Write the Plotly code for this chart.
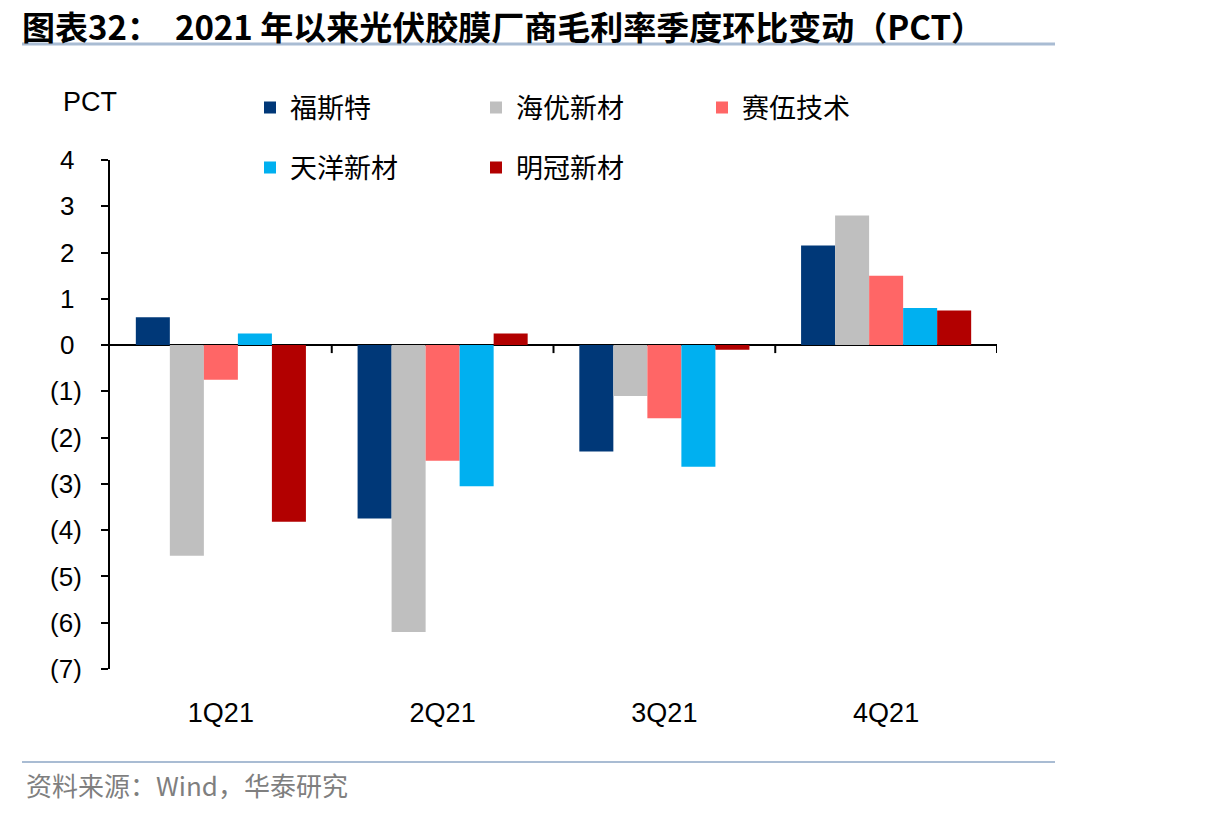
import plotly.graph_objects as go

categories = ["1Q21", "2Q21", "3Q21", "4Q21"]
series_names = ["福斯特", "海优新材", "赛伍技术", "天洋新材", "明冠新材"]
fst = [0.60, -3.75, -2.30, 2.15]
hy = [-4.55, -6.20, -1.10, 2.80]
sw = [-0.75, -2.50, -1.58, 1.50]
ty = [0.25, -3.05, -2.63, 0.80]
mg = [-3.82, 0.25, -0.10, 0.75]
series_values = [fst, hy, sw, ty, mg]
colors = ["#003878", "#bfbfbf", "#ff6666", "#00b0f0", "#b20000"]
legend_ids = ["legend", "legend", "legend", "legend2", "legend2"]

y_tickvals = [4, 3, 2, 1, 0, -1, -2, -3, -4, -5, -6, -7]
y_ticktext = ["4\u00a0", "3\u00a0", "2\u00a0", "1\u00a0", "0\u00a0", "(1)", "(2)", "(3)", "(4)", "(5)", "(6)", "(7)"]

W, H = 1206, 816
L, R, T, B = 110, 997, 160, 669
pw, ph = R - L, B - T


def px(xp):
    return (xp - L) / pw


def py(yp):
    return (B - yp) / ph


fig = go.Figure()
for name, vals, c, lg in zip(series_names, series_values, colors, legend_ids):
    fig.add_trace(go.Bar(x=categories, y=vals, name=name, marker=dict(color=c, line=dict(width=0)),
                         legend=lg))

arial = "Liberation Sans, Arial, sans-serif"
ytick_font = dict(family=arial, size=26, color="#000000")
xtick_font = dict(family=arial, size=27, color="#000000")
cjk = "Noto Sans CJK SC, sans-serif"
legend_font = dict(family=cjk, size=27, color="#000")

fig.update_layout(
    width=W, height=H,
    margin=dict(l=L, r=W - R, t=T, b=H - B, pad=0),
    paper_bgcolor="white", plot_bgcolor="white",
    barmode="group", bargap=0.233, bargroupgap=0,
    showlegend=True,
    legend=dict(orientation="h", x=px(250), xanchor="left", y=py(108), yanchor="middle",
                entrywidth=181, entrywidthmode="pixels", traceorder="normal",
                font=legend_font, bgcolor="rgba(0,0,0,0)"),
    legend2=dict(orientation="h", x=px(250), xanchor="left", y=py(168), yanchor="middle",
                 entrywidth=181, entrywidthmode="pixels", traceorder="normal",
                 font=legend_font, bgcolor="rgba(0,0,0,0)"),
    xaxis=dict(type="category", range=[-0.5, len(categories) - 0.5], showline=False, showgrid=False,
               zeroline=False, ticks="outside", ticklen=20, tickcolor="rgba(0,0,0,0)",
               tickfont=xtick_font, fixedrange=True),
    yaxis=dict(range=[-7, 4], tickvals=y_tickvals, ticktext=y_ticktext, showline=True,
               linecolor="#000", linewidth=2, ticks="outside", ticklen=7, tickwidth=2,
               tickcolor="#000", showgrid=False, zeroline=True, zerolinecolor="#000",
               zerolinewidth=2, tickfont=ytick_font, ticklabelstandoff=14, fixedrange=True),
)

# category boundary ticks on the zero line
for i in range(len(categories)):
    fig.add_shape(type="line", xref="x", yref="y", x0=i + 0.5, x1=i + 0.5,
                  ysizemode="pixel", yanchor=0, y0=0, y1=-8,
                  line=dict(color="#000", width=2))

# header / footer rules
fig.add_shape(type="line", xref="paper", yref="paper", x0=px(22), x1=px(1055), y0=py(44), y1=py(44),
              line=dict(color="#a9bcd3", width=3))
fig.add_shape(type="line", xref="paper", yref="paper", x0=px(22), x1=px(1055), y0=py(762), y1=py(762),
              line=dict(color="#a9bcd3", width=2))

fig.add_annotation(text="图表32：  2021 年以来光伏胶膜厂商毛利率季度环比变动（PCT）",
                   xref="paper", yref="paper", x=px(20), y=py(26), xanchor="left", yanchor="middle",
                   showarrow=False, font=dict(family=cjk, size=33, color="#000", weight="bold"))
fig.add_annotation(text="PCT", xref="paper", yref="paper", x=px(61), y=py(102), xanchor="left",
                   yanchor="middle", showarrow=False, font=dict(family=arial, size=27, color="#000"))
fig.add_annotation(text="资料来源：Wind，华泰研究", xref="paper", yref="paper", x=px(24), y=py(785),
                   xanchor="left", yanchor="middle", showarrow=False,
                   font=dict(family=cjk, size=26, color="#7f7f7f"))

fig.write_html("out.html")
